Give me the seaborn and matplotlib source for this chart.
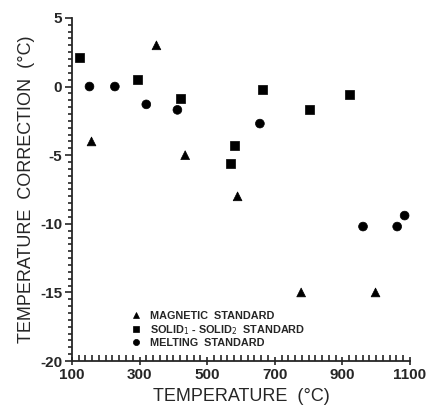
import seaborn as sns
import matplotlib.pyplot as plt
import pandas as pd
from matplotlib.ticker import MultipleLocator

# Data
mag_x = [158, 350, 435, 590, 778, 998]
mag_y = [-4.0, 3.0, -5.0, -8.0, -15.0, -15.0]

solid_x = [123, 293, 421, 569, 581, 664, 802, 920]
solid_y = [2.1, 0.5, -0.9, -5.6, -4.3, -0.2, -1.7, -0.6]

melt_x = [152, 227, 320, 412, 656, 961, 1062, 1084]
melt_y = [0.0, 0.0, -1.3, -1.7, -2.7, -10.2, -10.2, -9.4]

labels = ["MAGNETIC  STANDARD", "SOLID$_1$ - SOLID$_2$  STANDARD", "MELTING  STANDARD"]

df = pd.concat([
    pd.DataFrame({"x": mag_x, "y": mag_y, "kind": labels[0]}),
    pd.DataFrame({"x": solid_x, "y": solid_y, "kind": labels[1]}),
    pd.DataFrame({"x": melt_x, "y": melt_y, "kind": labels[2]}),
])

sns.set_style("ticks")
plt.rcParams["font.family"] = ["Liberation Sans", "DejaVu Sans"]
plt.rcParams["axes.unicode_minus"] = False

fig = plt.figure(figsize=(4.28, 4.16), dpi=100)
ax = fig.add_axes([0.168, 0.132, 0.79, 0.825])

sns.scatterplot(data=df, x="x", y="y", hue="kind", style="kind",
                palette=["black"] * 3, markers=["^", "s", "o"],
                s=40, edgecolor="black", linewidth=0.5, ax=ax)

ax.set_xlim(100, 1100)
ax.set_ylim(-20, 5)
ax.set_xticks([100, 300, 500, 700, 900, 1100])
ax.set_yticks([5, 0, -5, -10, -15, -20])
ax.xaxis.set_minor_locator(MultipleLocator(20))
ax.yaxis.set_minor_locator(MultipleLocator(0.5))
ax.tick_params(axis="x", which="major", direction="inout", length=6, width=1.2)
ax.tick_params(axis="x", which="minor", direction="in", length=4, width=1.2)
ax.tick_params(axis="y", which="major", direction="out", length=5, width=1.2)
ax.tick_params(axis="y", which="minor", direction="out", length=3, width=1.2)
ax.tick_params(labelsize=11, pad=2)
for lab in ax.get_xticklabels() + ax.get_yticklabels():
    lab.set_fontweight("bold")

sns.despine(ax=ax)
ax.spines["left"].set_linewidth(1.3)
ax.spines["bottom"].set_linewidth(1.3)

ax.set_xlabel("TEMPERATURE  (°C)", fontsize=13, labelpad=4)
ax.set_ylabel("TEMPERATURE  CORRECTION  (°C)", fontsize=13, labelpad=4)

leg = ax.legend(loc="lower left", bbox_to_anchor=(0.145, 0.025), frameon=False,
                prop={"weight": "bold", "size": 7.8}, handletextpad=0.3,
                labelspacing=0.15, markerscale=0.7, borderaxespad=0)

fig.savefig("out.png", dpi=100)
